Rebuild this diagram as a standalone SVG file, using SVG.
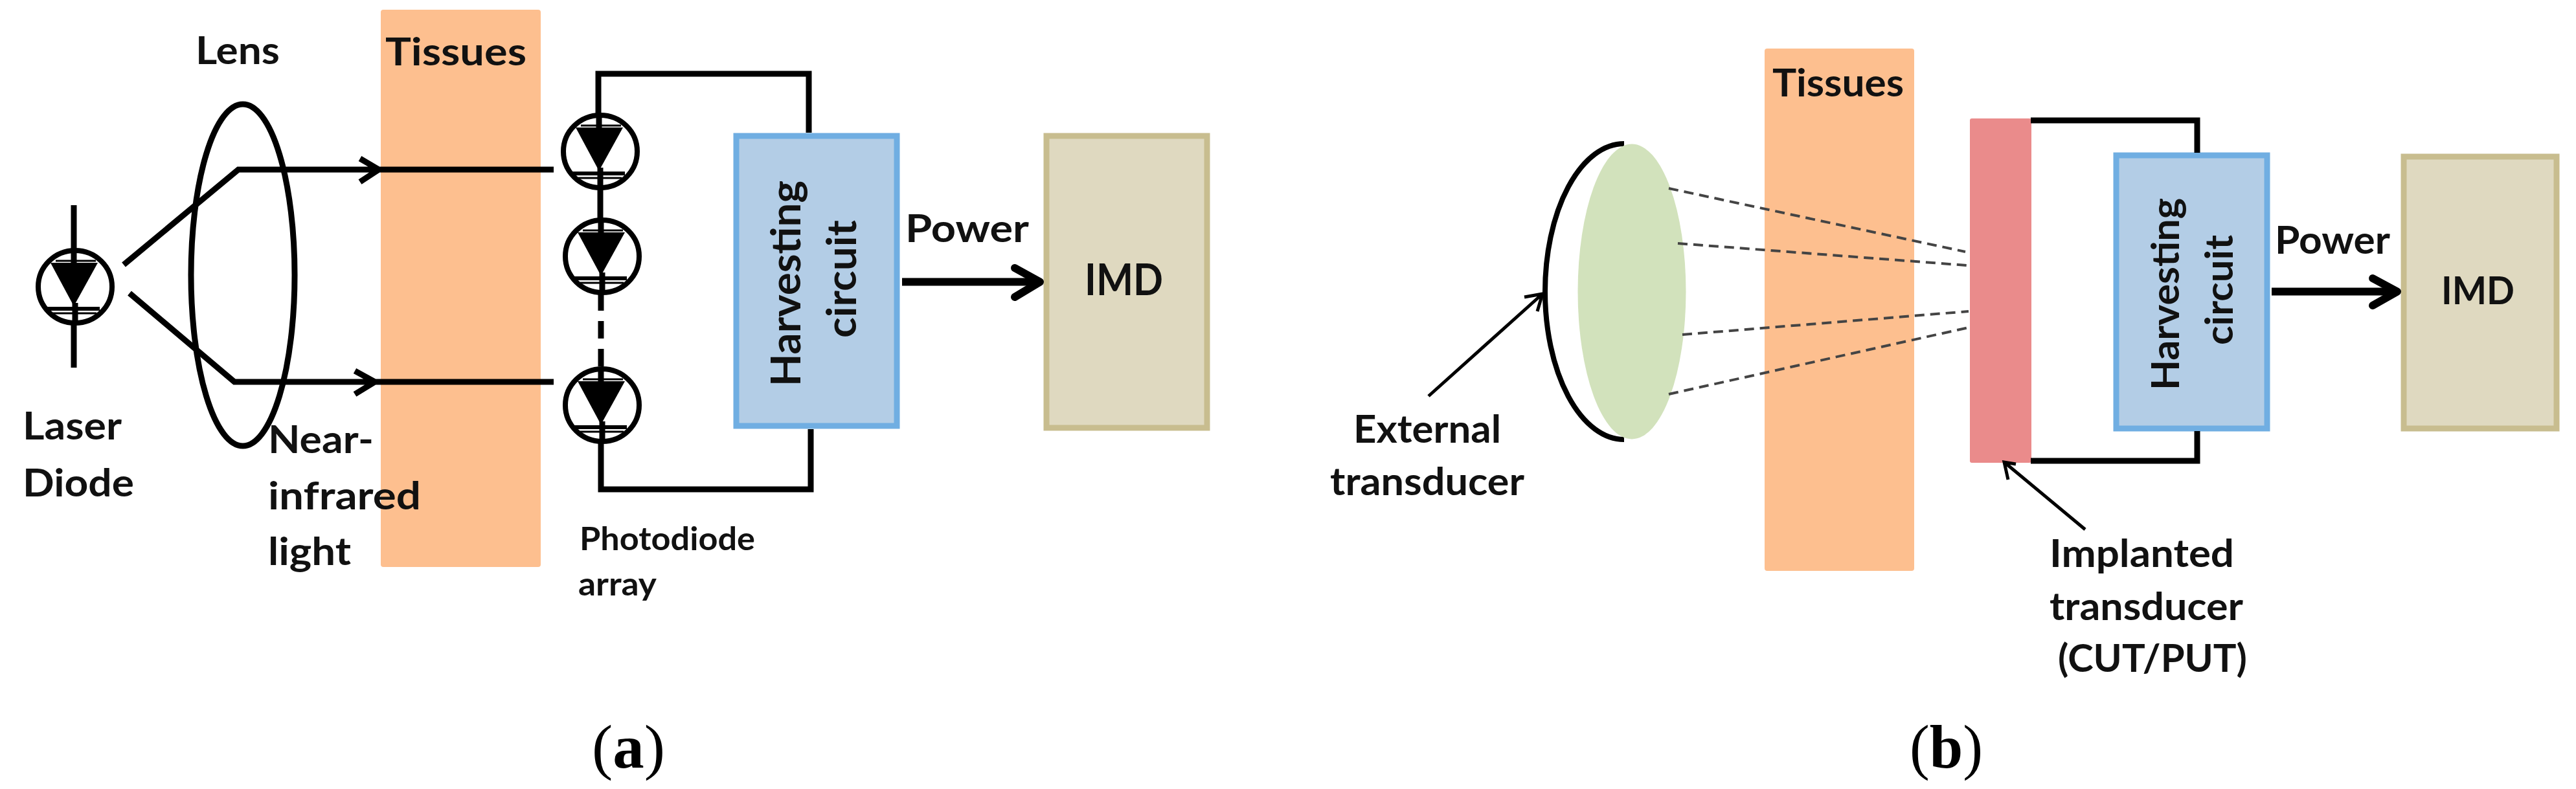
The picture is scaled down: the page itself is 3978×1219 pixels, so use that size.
<svg xmlns="http://www.w3.org/2000/svg" width="3978" height="1219" viewBox="0 0 3978 1219">
<defs>
<style>
text{font-family:Lato,"Liberation Sans",sans-serif;font-weight:700;fill:#111;font-size:60px}
.cap{font-family:"Liberation Serif",serif;font-size:96px;fill:#000;font-weight:400}
.cap tspan{font-weight:700}
.w{fill:none;stroke:#000;stroke-width:9;stroke-linejoin:miter}
.thin{fill:none;stroke:#000;stroke-width:5}
.dash{fill:none;stroke:#444;stroke-width:4;stroke-dasharray:15 9}
.p{fill:none;stroke:#000;stroke-width:12;stroke-linecap:round;stroke-linejoin:round}
.tis{fill:#fdbf8f}
.hv{fill:#b3cde6;stroke:#70aee2;stroke-width:9}
.imd{fill:#dfd9c0;stroke:#c8bd8f;stroke-width:9}
</style>
<g id="diode">
<ellipse cx="0" cy="0" rx="57" ry="56" fill="#fff" stroke="#000" stroke-width="8"/>
<path d="M-38-37H35L-2 30Z" fill="#000"/>
<path d="M-44 34H38" stroke="#000" stroke-width="6"/>
<path d="M-34 41H33M-30-40H32" stroke="#000" stroke-width="3"/>
<path d="M-2-56V-30M0 25V58" stroke="#000" stroke-width="9"/>
</g>
</defs>
<g id="tissues-a"><rect class="tis" x="588" y="15" width="247" height="861" rx="4"/><text x="595" y="101" textLength="218" lengthAdjust="spacingAndGlyphs">Tissues</text></g>
<g id="lens"><ellipse cx="375" cy="425" rx="80" ry="264" fill="none" stroke="#000" stroke-width="9"/><text x="302" y="99" textLength="130" lengthAdjust="spacingAndGlyphs">Lens</text></g>
<g id="laser-diode"><use href="#diode" x="116" y="443"/><path d="M114 317V388M114 498V568" stroke="#000" stroke-width="9"/><text x="35" y="679" textLength="153" lengthAdjust="spacingAndGlyphs">Laser</text><text x="35" y="767" textLength="172" lengthAdjust="spacingAndGlyphs">Diode</text></g>
<g id="light-label"><text x="414" y="700" textLength="163" lengthAdjust="spacingAndGlyphs">Near-</text><text x="414" y="787" textLength="236" lengthAdjust="spacingAndGlyphs">infrared</text><text x="414" y="873" textLength="128" lengthAdjust="spacingAndGlyphs">light</text></g>
<g id="photodiode-array"><use href="#diode" x="927" y="234"/><use href="#diode" x="930" y="396"/><use href="#diode" x="930" y="626"/><text x="895" y="850" textLength="271" lengthAdjust="spacingAndGlyphs" style="font-size:50px">Photodiode</text><text x="893" y="920" textLength="121" lengthAdjust="spacingAndGlyphs" style="font-size:50px">array</text></g>
<g id="harvest-a"><rect class="hv" x="1137" y="210" width="248" height="448"/><text transform="translate(1236 597) rotate(-90)" textLength="318" lengthAdjust="spacingAndGlyphs" style="font-size:64px">Harvesting</text><text transform="translate(1322 522) rotate(-90)" textLength="182" lengthAdjust="spacingAndGlyphs" style="font-size:64px">circuit</text></g>
<g id="imd-a"><rect class="imd" x="1616" y="210" width="248" height="451"/><text x="1675" y="456" textLength="121" lengthAdjust="spacingAndGlyphs" style="font-size:66px">IMD</text></g>
<g id="power-a"><text x="1398" y="374" textLength="191" lengthAdjust="spacingAndGlyphs">Power</text></g>
<g id="transducer-ext"><path d="M2508 222A122 228.500 0 0 0 2508 679" fill="none" stroke="#000" stroke-width="8"/><ellipse cx="2520" cy="450.500" rx="83.500" ry="228" fill="#d2e2bc"/><text x="2090" y="684" textLength="228" lengthAdjust="spacingAndGlyphs">External</text><text x="2054" y="765" textLength="300" lengthAdjust="spacingAndGlyphs">transducer</text></g>
<g id="tissues-b"><rect class="tis" x="2725" y="75" width="231" height="807" rx="4"/><text x="2737" y="149" textLength="203" lengthAdjust="spacingAndGlyphs">Tissues</text></g>
<g id="transducer-imp"><rect x="3042" y="183" width="95" height="532" rx="3" fill="#ea8b8b"/><text x="3165" y="876" textLength="285" lengthAdjust="spacingAndGlyphs">Implanted</text><text x="3165" y="958" textLength="299" lengthAdjust="spacingAndGlyphs">transducer</text><text x="3178" y="1038" textLength="292" lengthAdjust="spacingAndGlyphs">(CUT/PUT)</text></g>
<g id="harvest-b"><rect class="hv" x="3268" y="240" width="233" height="422"/><text transform="translate(3365 603) rotate(-90)" textLength="297" lengthAdjust="spacingAndGlyphs" style="font-size:60px">Harvesting</text><text transform="translate(3448 533) rotate(-90)" textLength="170" lengthAdjust="spacingAndGlyphs" style="font-size:60px">circuit</text></g>
<g id="imd-b"><rect class="imd" x="3712" y="242" width="236" height="420"/><text x="3770" y="470" textLength="113" lengthAdjust="spacingAndGlyphs" style="font-size:60px">IMD</text></g>
<g id="power-b"><text x="3513" y="392" textLength="178" lengthAdjust="spacingAndGlyphs">Power</text></g>
<g id="captions"><text class="cap" x="914" y="1186" textLength="113" lengthAdjust="spacingAndGlyphs">(<tspan>a</tspan>)</text><text class="cap" x="2949" y="1186" textLength="113" lengthAdjust="spacingAndGlyphs">(<tspan>b</tspan>)</text></g>
<g id="connectors">
<path class="w" d="M191 409L368 262H855M556 245L585 262L556 281"/>
<path class="w" d="M200 453L362 590H855M548 573L579 590L548 609"/>
<path class="w" d="M924 180V114H1249V205"/>
<path class="w" d="M927 288V342"/>
<path class="w" d="M928 453V568" stroke-dasharray="27 16"/>
<path class="w" d="M928 680V756H1252V663"/>
<path d="M1393 435.500H1604" fill="none" stroke="#000" stroke-width="12"/>
<path class="p" d="M1567 414L1606 435.500L1567 459"/>
<path class="thin" d="M2206 612L2382 454M2354 459L2382 454L2374 481"/>
<path class="dash" d="M2577 291L3035 389"/>
<path class="dash" d="M2591 376L3037 410"/>
<path class="dash" d="M2598 517L3040 481"/>
<path class="dash" d="M2577 609L3040 506"/>
<path class="w" d="M3136 186H3393V236M3393 666V712H3136"/>
<path d="M3508 450.500H3700" fill="none" stroke="#000" stroke-width="12"/>
<path class="p" d="M3664 430L3702 450.500L3664 472"/>
<path class="thin" d="M3220 818L3095 714M3113 717L3095 714L3101 741"/>
</g>
</svg>
